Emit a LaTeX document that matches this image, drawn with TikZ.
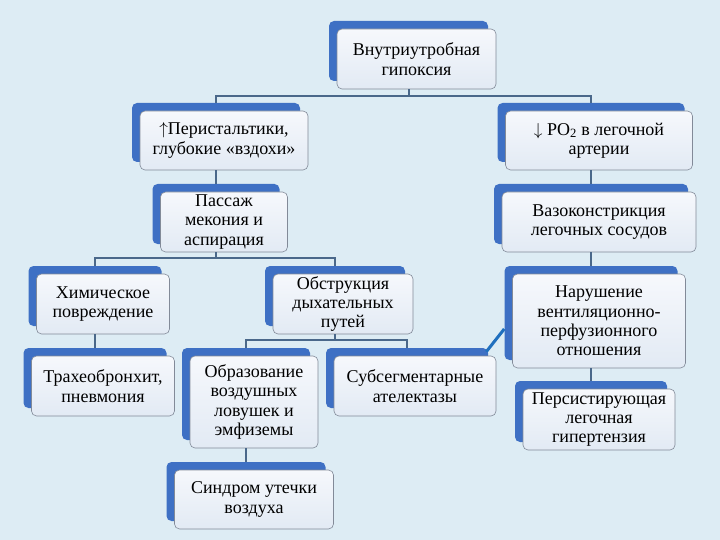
\documentclass[tikz,border=0pt]{standalone}
\usepackage{fontspec}
\setmainfont{Liberation Serif}
\usetikzlibrary{shadows}

\definecolor{bgblue}{RGB}{221,236,244}
\definecolor{tabblue}{RGB}{62,112,196}
\definecolor{tileedge}{RGB}{130,138,152}
\definecolor{tiletop}{RGB}{246,248,252}
\definecolor{tilebot}{RGB}{226,234,244}
\definecolor{linkblue}{RGB}{74,104,138}
\definecolor{crossblue}{RGB}{32,112,190}

\begin{document}
\begin{tikzpicture}[
  x=1pt, y=-1pt,
  every node/.style={font=\fontsize{18}{19.4}\selectfont},
  tile/.style={draw=tileedge, line width=0.6pt, rounded corners=5pt,
    top color=tiletop, bottom color=tilebot, align=center, inner sep=0pt,
    general shadow={fill=tabblue, shadow xshift=-8pt, shadow yshift=8pt}},
  link/.style={draw=linkblue, line width=2pt},
  cross/.style={draw=crossblue, line width=3pt},
]
\fill[bgblue] (0,0) rectangle (720,540);
\useasboundingbox (0,0) rectangle (720,540);

% top level
\node[tile, minimum width=159pt, minimum height=60pt] (hyp) at (416.5,59) {Внутриутробная\\гипоксия};
% left branch
\node[tile, minimum width=168pt, minimum height=59pt] (peri) at (224,140.5) {$\uparrow$Перистальтики,\\глубокие «вздохи»};
\node[tile, minimum width=127pt, minimum height=60pt] (mec) at (224,222) {Пассаж\\мекония и\\аспирация};
\node[tile, minimum width=133pt, minimum height=60pt] (chem) at (103,304) {Химическое\\повреждение};
\node[tile, minimum width=143pt, minimum height=60pt] (tbr) at (103,386) {Трахеобронхит,\\пневмония};
\node[tile, minimum width=140pt, minimum height=60pt] (obs) at (343,304) {Обструкция\\дыхательных\\путей};
\node[tile, minimum width=128pt, minimum height=92pt] (trap) at (254,402) {Образование\\воздушных\\ловушек и\\эмфиземы};
\node[tile, minimum width=162pt, minimum height=60pt] (atel) at (415,386) {Субсегментарные\\ателектазы};
\node[tile, minimum width=159pt, minimum height=59pt] (leak) at (254,499.5) {Синдром утечки\\воздуха};
% right branch
\node[tile, minimum width=187pt, minimum height=59pt] (po2) at (599,140.5) {$\downarrow$ PO\textsubscript{2} в легочной\\артерии};
\node[tile, minimum width=194pt, minimum height=60pt] (vaso) at (599,222) {Вазоконстрикция\\легочных сосудов};
\node[tile, minimum width=173pt, minimum height=94pt] (vq) at (599,321) {Нарушение\\вентиляционно-\\перфузионного\\отношения};
\node[tile, minimum width=152pt, minimum height=61pt] (pph) at (599,419.5) {Персистирующая\\легочная\\гипертензия};

% forks
\foreach \p/\c/\d in {hyp/peri/7, hyp/po2/7, mec/chem/6, mec/obs/6, obs/trap/6, obs/atel/6} {
  \draw[link] ([xshift=-8pt]\p.south) -- ++(0,\d) -| ([shift={(-8pt,8pt)}]\c.north);
}
% single links
\foreach \p/\c in {peri/mec, chem/tbr, trap/leak, po2/vaso, vaso/vq, vq/pph} {
  \draw[link] ([xshift=-8pt]\p.south) -- ([shift={(-8pt,8pt)}]\c.north);
}
\draw[cross] ([shift={(-10pt,4pt)}]atel.north east) -- ([shift={(-8pt,-8pt)}]vq.west);
\end{tikzpicture}
\end{document}
